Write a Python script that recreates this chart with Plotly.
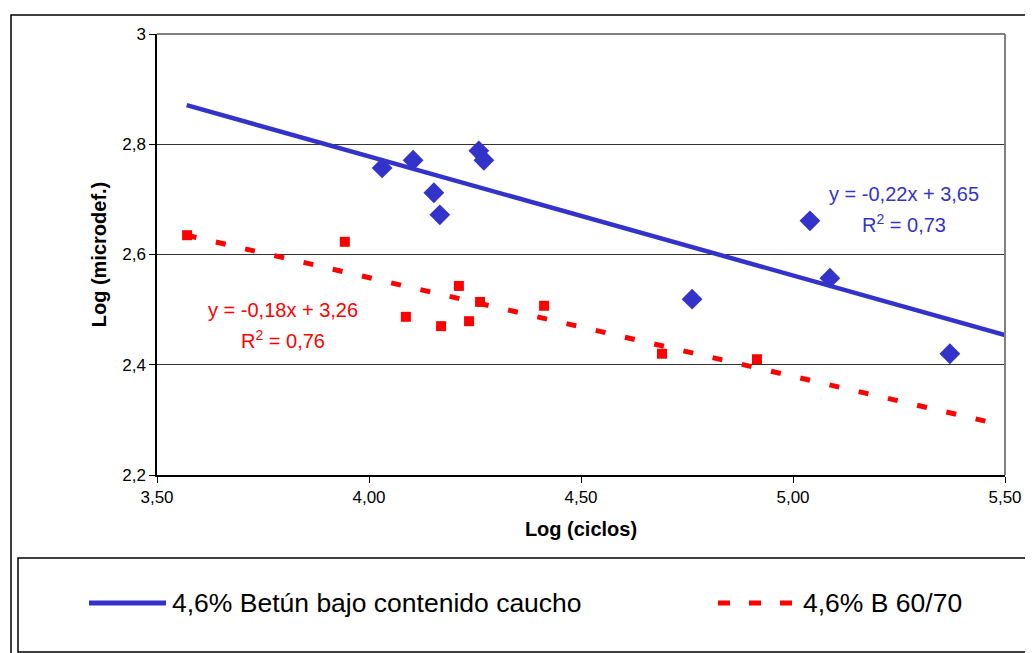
import plotly.graph_objects as go

# Data
blue_name = "4,6% Betún bajo contenido caucho"
blue_x = [4.031, 4.104, 4.153, 4.167, 4.259, 4.271, 4.762, 5.040, 5.087, 5.370]
blue_y = [2.757, 2.771, 2.712, 2.672, 2.788, 2.771, 2.519, 2.661, 2.557, 2.420]
blue_trend = [-0.216, 3.642]   # slope, intercept as drawn
blue_trend_x = [3.57, 5.50]

red_name = "4,6% B 60/70"
red_x = [3.571, 3.943, 4.087, 4.170, 4.212, 4.236, 4.262, 4.413, 4.691, 4.915]
red_y = [2.635, 2.623, 2.487, 2.470, 2.543, 2.479, 2.514, 2.507, 2.420, 2.410]
red_trend = [-0.179, 3.274]
red_trend_x = [3.57, 5.50]

x_ticks = [3.5, 4.0, 4.5, 5.0, 5.5]
x_tick_labels = ["3,50", "4,00", "4,50", "5,00", "5,50"]
y_ticks = [2.2, 2.4, 2.6, 2.8, 3.0]
y_tick_labels = ["2,2", "2,4", "2,6", "2,8", "3"]

blue_eq = ["y = -0,22x + 3,65", "R<sup>2</sup> = 0,73"]
red_eq = ["y = -0,18x + 3,26", "R<sup>2</sup> = 0,76"]

BLUE = "#3333CC"
RED = "#FF0000"
FONT = "Liberation Sans, Arial, sans-serif"

OFF = 8  # page body margin
W, H = 1033 - OFF, 653 - OFF
L, R, T, B = 157 - OFF, 1005 - OFF, 34 - OFF, 475 - OFF

def px(x):
    return (x - OFF - L) / (R - L)

def py(y):
    return (B - (y - OFF)) / (B - T)

fig = go.Figure()

fig.add_trace(go.Scatter(
    x=blue_trend_x, y=[blue_trend[0] * v + blue_trend[1] for v in blue_trend_x],
    mode="lines", line=dict(color=BLUE, width=4.5), showlegend=False, hoverinfo="skip"))
fig.add_trace(go.Scatter(
    x=red_trend_x, y=[red_trend[0] * v + red_trend[1] for v in red_trend_x],
    mode="lines", line=dict(color=RED, width=5, dash="10px,20px"), showlegend=False, hoverinfo="skip"))
fig.add_trace(go.Scatter(
    x=blue_x, y=blue_y, mode="markers", name=blue_name,
    marker=dict(symbol="diamond", size=16, color=BLUE), showlegend=False))
fig.add_trace(go.Scatter(
    x=red_x, y=red_y, mode="markers", name=red_name,
    marker=dict(symbol="square", size=10, color=RED), showlegend=False))

shapes = []
# outer chart border
shapes.append(dict(type="rect", xref="paper", yref="paper",
                   x0=px(11), x1=px(1045), y0=py(15), y1=py(665),
                   line=dict(color="black", width=1.5), layer="below"))
# legend box
shapes.append(dict(type="rect", xref="paper", yref="paper",
                   x0=px(18), x1=px(1029), y0=py(558), y1=py(652),
                   line=dict(color="black", width=1.5)))
# legend samples
shapes.append(dict(type="line", xref="paper", yref="paper",
                   x0=px(89), x1=px(166), y0=py(603), y1=py(603),
                   line=dict(color=BLUE, width=5)))
shapes.append(dict(type="line", xref="paper", yref="paper",
                   x0=px(718), x1=px(792), y0=py(603), y1=py(603),
                   line=dict(color=RED, width=5, dash="12px,19px")))
# plot area border top/right gray
shapes.append(dict(type="line", xref="paper", yref="paper", x0=0, x1=1, y0=1, y1=1,
                   line=dict(color="#808080", width=2)))
shapes.append(dict(type="line", xref="paper", yref="paper", x0=1, x1=1, y0=0, y1=1,
                   line=dict(color="#808080", width=2)))

def ann(text, x, y, color, size, anchor="center"):
    return dict(text=text, xref="paper", yref="paper", x=px(x), y=py(y),
                xanchor=anchor, yanchor="middle", showarrow=False,
                font=dict(size=size, color=color, family=FONT))

annotations = [
    ann(blue_eq[0], 904, 194, BLUE, 20),
    ann(blue_eq[1], 904, 223, BLUE, 20),
    ann(red_eq[0], 283, 310, RED, 20),
    ann(red_eq[1], 283, 339, RED, 20),
    ann(blue_name, 170, 603, "black", 26.5, "left"),
    ann(red_name, 801, 603, "black", 26.5, "left"),
]

fig.update_layout(
    width=W, height=H,
    margin=dict(l=L, r=W - R, t=T, b=H - B),
    paper_bgcolor="white", plot_bgcolor="white",
    font=dict(family=FONT, size=17, color="black"),
    shapes=shapes, annotations=annotations,
    showlegend=False,
)
fig.update_xaxes(range=[3.5, 5.5], tickvals=x_ticks, ticktext=x_tick_labels,
                 showgrid=False, zeroline=False, showline=True, linecolor="black", linewidth=1.5,
                 ticks="outside", ticklen=6, tickcolor="black",
                 title=dict(text="<b>Log (ciclos)</b>", font=dict(size=20), standoff=16))
fig.update_yaxes(range=[2.2, 3.0], tickvals=y_ticks, ticktext=y_tick_labels,
                 showgrid=True, gridcolor="#333333", gridwidth=1, zeroline=False,
                 showline=True, linecolor="black", linewidth=1.5,
                 ticks="outside", ticklen=6, tickcolor="black",
                 title=dict(text="<b>Log (microdef.)</b>", font=dict(size=20), standoff=10))

fig.write_html("out.html")
